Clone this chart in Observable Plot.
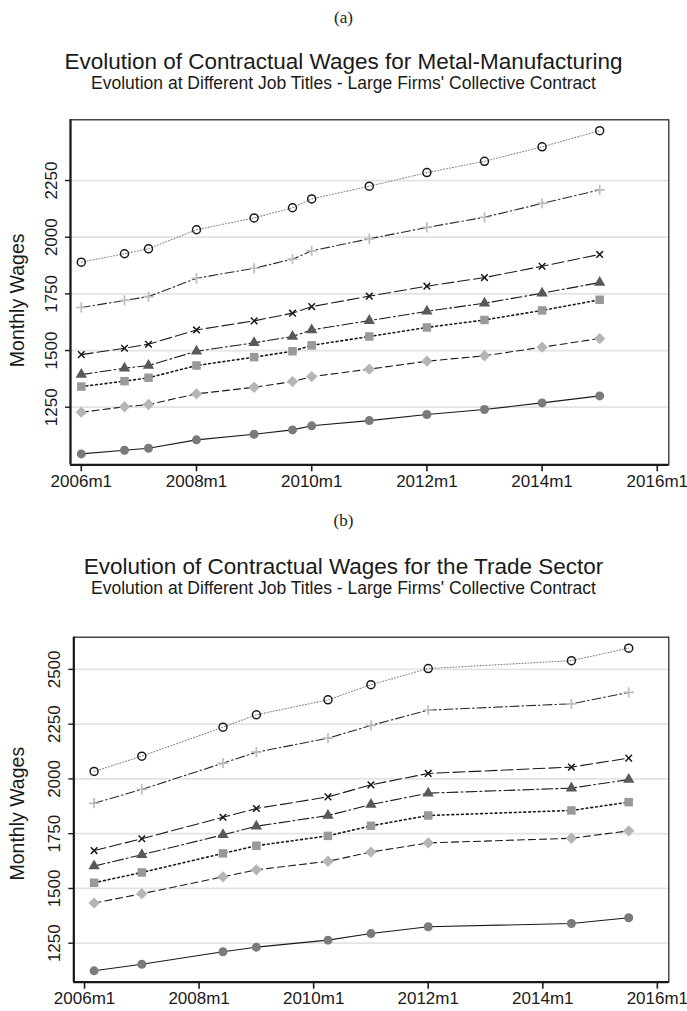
<!DOCTYPE html>
<html><head><meta charset="utf-8">
<script src="https://cdn.jsdelivr.net/npm/d3@7"></script>
<script src="https://cdn.jsdelivr.net/npm/@observablehq/plot@0.6"></script>
<style>
body{margin:0;background:#fff;}
#page{position:relative;width:687px;height:1011px;overflow:hidden;font-family:"Liberation Sans",Arial,sans-serif;color:#1a1a1a;background:#fff}
.lab{position:absolute;left:0;width:687px;text-align:center;white-space:nowrap;line-height:1}
.serif{font-family:"Liberation Serif","Times New Roman",serif}
.panel{position:absolute;left:0}
</style></head>
<body>
<div id="page">
  <div class="lab serif" style="top:9px;font-size:17px">(a)</div>
  <div class="lab" style="top:51px;font-size:22.5px">Evolution of Contractual Wages for Metal-Manufacturing</div>
  <div class="lab" style="top:75px;font-size:17.5px">Evolution at Different Job Titles - Large Firms' Collective Contract</div>
  <div class="panel" id="pa" style="top:100px"></div>
  <div class="lab serif" style="top:512px;font-size:17px">(b)</div>
  <div class="lab" style="top:556px;font-size:22.5px">Evolution of Contractual Wages for the Trade Sector</div>
  <div class="lab" style="top:580px;font-size:17.5px">Evolution at Different Job Titles - Large Firms' Collective Contract</div>
  <div class="panel" id="pb" style="top:610px"></div>
</div>
<script>
// ---- Data: Metal-Manufacturing (panel a) ----
const metalDates = ["2006m1","2006m10","2007m3","2008m1","2009m1","2009m9","2010m1","2011m1","2012m1","2013m1","2014m1","2015m1"];
const metalHollowCircle = [1890,1927,1949,2033,2085,2130,2169,2225,2285,2335,2399,2470];
const metalPlus         = [1690,1721,1738,1819,1863,1903,1940,1993,2043,2088,2149,2209];
const metalCross        = [1482,1510,1528,1591,1631,1665,1694,1740,1784,1822,1872,1924];
const metalTriangle     = [1394,1422,1434,1497,1534,1562,1591,1632,1673,1709,1753,1800];
const metalSquare       = [1341,1365,1380,1434,1471,1497,1523,1562,1602,1635,1677,1724];
const metalDiamond      = [1228,1252,1262,1309,1338,1363,1385,1418,1453,1477,1515,1553];
const metalFilledCircle = [1044,1060,1069,1106,1131,1150,1168,1191,1218,1240,1269,1300];
const metalYTicks = [1250,1500,1750,2000,2250];

// ---- Data: Trade Sector (panel b) ----
const tradeDates = ["2006m3","2007m1","2008m6","2009m1","2010m4","2011m1","2012m1","2014m7","2015m7"];
const tradeHollowCircle = [2034,2104,2236,2293,2361,2430,2504,2540,2597];
const tradePlus         = [1889,1952,2072,2122,2186,2244,2314,2343,2395];
const tradeCross        = [1673,1727,1825,1865,1918,1973,2025,2054,2095];
const tradeTriangle     = [1602,1654,1745,1784,1833,1883,1935,1958,1997];
const tradeSquare       = [1526,1573,1660,1695,1740,1786,1833,1856,1894];
const tradeDiamond      = [1433,1476,1553,1585,1624,1666,1708,1729,1763];
const tradeFilledCircle = [1124,1154,1211,1232,1264,1294,1325,1340,1366];
const tradeYTicks = [1250,1500,1750,2000,2250,2500];

const xTickLabels = ["2006m1","2008m1","2010m1","2012m1","2014m1","2016m1"];
const yLabel = "Monthly Wages";

// Stata monthly date "YYYYmM" -> months since 2006m1
const monthIndex = s => { const [y, m] = s.split("m").map(Number); return (y - 2006) * 12 + (m - 1); };

// series styles (marker + connecting line)
const styles = [
  {symbol:"circle",   r:4,   fill:"none",    stroke:"#1a1a1a", sw:1.5, line:"#8a8a8a", dash:"1,2",       lw:1.1},
  {symbol:"plus",     r:3.4, fill:"none",    stroke:"#bdbdbd", sw:1.7, line:"#2a2a2a", dash:"9,3,1.5,3", lw:1.1},
  {symbol:"times",    r:3.1, fill:"none",    stroke:"#1a1a1a", sw:1.5, line:"#1a1a1a", dash:"12,4",      lw:1.1},
  {symbol:"triangle", r:4.2, fill:"#595959", stroke:"none",    sw:0,   line:"#1a1a1a", dash:"11,3,2,3",  lw:1.1},
  {symbol:"square",   r:4.8, fill:"#999999", stroke:"none",    sw:0,   line:"#1a1a1a", dash:"1.8,3",     lw:1.6},
  {symbol:"diamond2", r:5.1, fill:"#b5b5b5", stroke:"none",    sw:0,   line:"#1a1a1a", dash:"7,4",       lw:1.1},
  {symbol:"circle",   r:4.5, fill:"#7a7a7a", stroke:"none",    sw:0,   line:"#1a1a1a", dash:null,        lw:1.1}
];

function panel(dates, seriesValues, yTicks, yDomain, dims) {
  const xs = dates.map(monthIndex);
  const xDomain = [-2.25, 122.4];
  const marks = [Plot.ruleY(yTicks, {stroke:"#e3e3e3", strokeWidth:1.7})];
  seriesValues.forEach((vals, i) => {
    const st = styles[i];
    const rows = vals.map((v, j) => ({x: xs[j], y: v}));
    marks.push(Plot.line(rows, {x:"x", y:"y", stroke: st.line, strokeWidth: st.lw, strokeDasharray: st.dash || undefined}));
  });
  seriesValues.forEach((vals, i) => {
    const st = styles[i];
    const rows = vals.map((v, j) => ({x: xs[j], y: v}));
    marks.push(Plot.dot(rows, {x:"x", y:"y", symbol: st.symbol, r: st.r, fill: st.fill, stroke: st.stroke, strokeWidth: st.sw}));
  });
  const xTickVals = xTickLabels.map(monthIndex);
  marks.push(
    Plot.frame({stroke:"#1a1a1a", strokeWidth:1.2}),
    Plot.ruleX([xDomain[0]], {stroke:"#1a1a1a", strokeWidth:2.2}),
    Plot.ruleY([yDomain[0]], {stroke:"#1a1a1a", strokeWidth:2.2}),
    Plot.axisX({ticks: xTickVals, tickFormat: d => xTickLabels[xTickVals.indexOf(d)], tickSize:7, tickPadding:3, fontSize:17, strokeWidth:1.6, label:null}),
    Plot.axisY({ticks: yTicks, tickFormat: d => String(d), tickSize:5, tickPadding:9, tickRotate:-90, fontSize:17, strokeWidth:1.4, label:null}),
    Plot.text([yLabel], {text: d => d, frameAnchor:"left", textAnchor:"middle", dx: -dims.labelDx, dy: dims.labelDy, rotate:-90, fontSize:19.5})
  );
  return Plot.plot({
    width: 687, height: dims.height,
    marginLeft: dims.ml, marginRight: dims.mr, marginTop: dims.mt, marginBottom: dims.mb,
    x: {domain: xDomain},
    y: {domain: yDomain},
    style: {fontFamily:"'Liberation Sans', Arial, sans-serif", fontSize:"17px", color:"#1a1a1a", background:"white", overflow:"visible"},
    marks
  });
}

document.getElementById("pa").append(panel(metalDates,
  [metalHollowCircle, metalPlus, metalCross, metalTriangle, metalSquare, metalDiamond, metalFilledCircle],
  metalYTicks, [996, 2518], {height:400, ml:70, mr:18.7, mt:19.3, mb:35.7, labelDx:53, labelDy:8}));
document.getElementById("pb").append(panel(tradeDates,
  [tradeHollowCircle, tradePlus, tradeCross, tradeTriangle, tradeSquare, tradeDiamond, tradeFilledCircle],
  tradeYTicks, [1072, 2647], {height:401, ml:73.3, mr:18.7, mt:26.7, mb:29.3, labelDx:56, labelDy:4}));
</script>
</body></html>
